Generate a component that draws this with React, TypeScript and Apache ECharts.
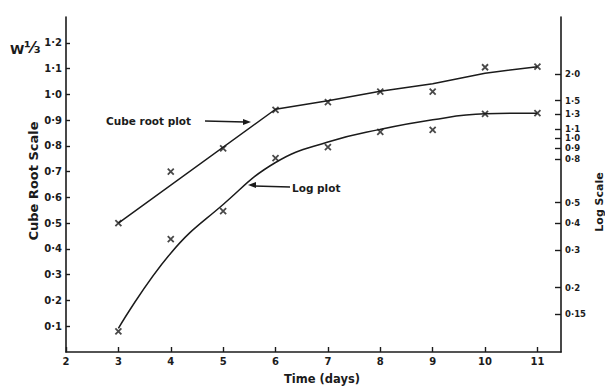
import React, { useEffect, useRef } from "react";
import * as echarts from "echarts";

// Time in days for each measurement
const days = [3, 4, 5, 6, 7, 8, 9, 10, 11];
// Cube-root scale (W^1/3) measurements, left axis
const cubeRootPoints = [0.5, 0.7, 0.79, 0.94, 0.97, 1.01, 1.01, 1.105, 1.107];
// Fitted cube-root line
const cubeRootFitDays = [3, 6, 7, 8, 9, 10, 11];
const cubeRootFit = [0.5, 0.942, 0.975, 1.012, 1.041, 1.082, 1.107];
// Log-scale measurements, right axis
const logPoints = [0.125, 0.337, 0.456, 0.807, 0.908, 1.07, 1.094, 1.3, 1.31];
// Fitted log curve
const logCurve = [0.129, 0.29, 0.49, 0.77, 0.96, 1.1, 1.22, 1.3, 1.31];

// Axis ticks
const dayTicks = [2, 3, 4, 5, 6, 7, 8, 9, 10, 11];
const cubeRootTicks = [0.1, 0.2, 0.3, 0.4, 0.5, 0.6, 0.7, 0.8, 0.9, 1.0, 1.1, 1.2];
const logTicks = [0.15, 0.2, 0.3, 0.4, 0.5, 0.8, 0.9, 1.0, 1.1, 1.3, 1.5, 2.0];
const logTickLabels = ["0·15", "0·2", "0·3", "0·4", "0·5", "0·8", "0·9", "1·0", "1·1", "1·3", "1·5", "2·0"];

const INK = "#1b1b1b";
const FONT = "DejaVu Sans";
const CROSS = "path://M0,0L10,10M10,0L0,10";

export default function App() {
  const ref = useRef<HTMLDivElement>(null);

  useEffect(() => {
    if (!ref.current) return;
    document.body.style.margin = "0";
    const chart = echarts.init(ref.current, null, { renderer: "svg" });

    const tickLabel = {
      color: INK,
      fontFamily: FONT,
      fontSize: 10,
      fontWeight: "bold" as const,
    };

    chart.setOption({
      animation: false,
      backgroundColor: "#ffffff",
      grid: {
        left: 66,
        right: 44,
        top: 17,
        bottom: 35,
        containLabel: false,
        outerBoundsMode: "none",
      },
      xAxis: {
        type: "value",
        min: 2,
        max: 11.45,
        axisLine: { show: true, onZero: false, lineStyle: { color: INK, width: 1.6 } },
        axisTick: { show: true, inside: true, length: 5, customValues: dayTicks, lineStyle: { color: INK, width: 1.4 } },
        axisLabel: { ...tickLabel, margin: 4, customValues: dayTicks, formatter: (v: number) => String(Math.round(v)) },
        splitLine: { show: false },
      },
      yAxis: [
        {
          type: "value",
          min: 0,
          max: 1.3,
          position: "left",
          axisLine: { show: true, lineStyle: { color: INK, width: 1.6 } },
          axisTick: { show: true, inside: true, length: 4, customValues: cubeRootTicks, lineStyle: { color: INK, width: 1.4 } },
          axisLabel: {
            ...tickLabel,
            margin: 4,
            customValues: cubeRootTicks,
            formatter: (v: number) => v.toFixed(1).replace(".", "·"),
          },
          splitLine: { show: false },
        },
        {
          type: "log",
          logBase: 10,
          min: 0.1,
          max: 3.69,
          position: "right",
          axisLine: { show: true, lineStyle: { color: INK, width: 1.6 } },
          axisTick: { show: true, inside: true, length: 6, customValues: logTicks, lineStyle: { color: INK, width: 1.4 } },
          axisLabel: {
            ...tickLabel,
            fontSize: 8.5,
            margin: 4,
            customValues: logTicks,
            formatter: (v: number) => {
              const r = Math.round(v * 100) / 100;
              const i = logTicks.findIndex((t) => Math.abs(t - r) < 1e-6);
              return i >= 0 ? logTickLabels[i] : "";
            },
          },
          splitLine: { show: false },
        },
      ],
      series: [
        {
          name: "Cube root fit",
          type: "line",
          yAxisIndex: 0,
          data: cubeRootFitDays.map((d, i) => [d, cubeRootFit[i]]),
          symbol: "none",
          lineStyle: { color: INK, width: 1.5 },
        },
        {
          name: "Cube root plot",
          type: "scatter",
          yAxisIndex: 0,
          data: days.map((d, i) => [d, cubeRootPoints[i]]),
          symbol: CROSS,
          symbolSize: 6,
          itemStyle: { color: "transparent", borderColor: INK, borderWidth: 1.8 },
        },
        {
          name: "Log fit",
          type: "line",
          yAxisIndex: 1,
          data: days.map((d, i) => [d, logCurve[i]]),
          symbol: "none",
          smooth: 0.45,
          lineStyle: { color: INK, width: 1.5 },
        },
        {
          name: "Log plot",
          type: "scatter",
          yAxisIndex: 1,
          data: days.map((d, i) => [d, logPoints[i]]),
          symbol: CROSS,
          symbolSize: 6,
          itemStyle: { color: "transparent", borderColor: INK, borderWidth: 1.8 },
        },
      ],
      graphic: [
        // W^1/3 heading over the left axis
        {
          type: "text",
          x: 10,
          y: 49,
          style: { text: "W", fill: INK, font: `bold 13px "${FONT}"`, verticalAlign: "middle" },
        },
        {
          type: "text",
          x: 24,
          y: 47,
          style: { text: "⅓", fill: INK, font: `bold 16px "${FONT}"`, verticalAlign: "middle" },
        },
        // Axis titles
        {
          type: "text",
          x: 33,
          y: 181,
          rotation: Math.PI / 2,
          style: {
            text: "Cube Root Scale",
            fill: INK,
            font: `bold 13px "${FONT}"`,
            align: "center",
            verticalAlign: "middle",
          },
        },
        {
          type: "text",
          x: 599,
          y: 202,
          rotation: Math.PI / 2,
          style: {
            text: "Log Scale",
            fill: INK,
            font: `bold 11px "${FONT}"`,
            align: "center",
            verticalAlign: "middle",
          },
        },
        {
          type: "text",
          x: 322,
          y: 379,
          style: {
            text: "Time (days)",
            fill: INK,
            font: `bold 11.5px "${FONT}"`,
            align: "center",
            verticalAlign: "middle",
          },
        },
        // Cube root annotation with arrow
        {
          type: "text",
          x: 106,
          y: 121,
          style: { text: "Cube root plot", fill: INK, font: `bold 10.5px "${FONT}"`, verticalAlign: "middle" },
        },
        {
          type: "line",
          shape: { x1: 205, y1: 121, x2: 245, y2: 122 },
          style: { stroke: INK, lineWidth: 1.4 },
        },
        {
          type: "polygon",
          shape: { points: [[251, 122], [243, 119], [243, 125]] },
          style: { fill: INK },
        },
        // Log annotation with arrow
        {
          type: "text",
          x: 292,
          y: 188,
          style: { text: "Log plot", fill: INK, font: `bold 10.5px "${FONT}"`, verticalAlign: "middle" },
        },
        {
          type: "line",
          shape: { x1: 254, y1: 186, x2: 290, y2: 187 },
          style: { stroke: INK, lineWidth: 1.4 },
        },
        {
          type: "polygon",
          shape: { points: [[248, 185], [256, 182], [256, 188]] },
          style: { fill: INK },
        },
      ],
    });

    return () => chart.dispose();
  }, []);

  return <div ref={ref} style={{ width: 605, height: 387 }} />;
}
